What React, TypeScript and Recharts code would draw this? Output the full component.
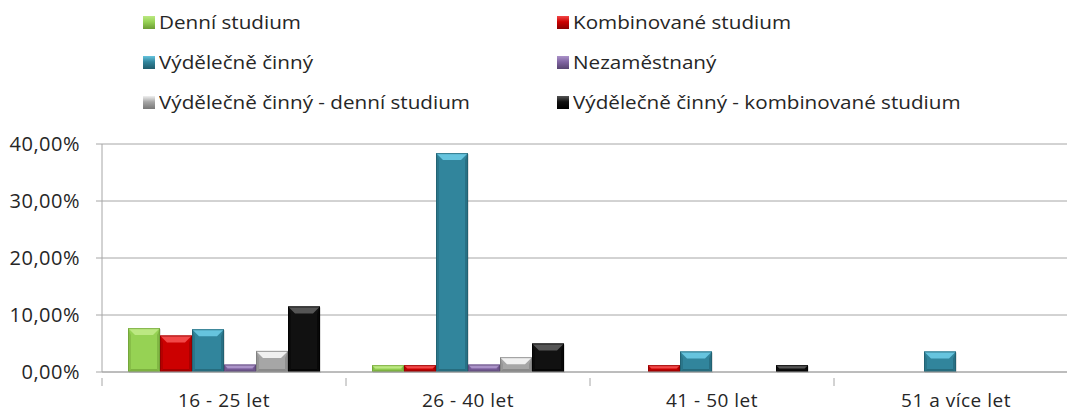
import React from "react";
import { BarChart, Bar, XAxis, YAxis, CartesianGrid } from "recharts";

const categories = ["16 - 25 let", "26 - 40 let", "41 - 50 let", "51 a více let"];
const denniStudium = [0.077, 0.012, 0, 0];
const kombinovaneStudium = [0.064, 0.012, 0.012, 0];
const vydelecneCinny = [0.075, 0.384, 0.036, 0.036];
const nezamestnany = [0.013, 0.013, 0, 0];
const vydelecneDenni = [0.037, 0.026, 0, 0];
const vydelecneKombinovane = [0.115, 0.05, 0.012, 0];
const yTicks = [0, 0.1, 0.2, 0.3, 0.4];

const series = [
  { key: "denni", name: "Denní studium", values: denniStudium, base: "#96d254", light: "#bce882", dark: "#6c9c34" },
  { key: "komb", name: "Kombinované studium", values: kombinovaneStudium, base: "#cc0000", light: "#f24848", dark: "#8a0000" },
  { key: "vyd", name: "Výdělečně činný", values: vydelecneCinny, base: "#31859c", light: "#66c4de", dark: "#205b6b" },
  { key: "nez", name: "Nezaměstnaný", values: nezamestnany, base: "#8064a2", light: "#ab93c9", dark: "#574470" },
  { key: "vydDen", name: "Výdělečně činný - denní studium", values: vydelecneDenni, base: "#a6a6a6", light: "#f0f0f0", dark: "#777777" },
  { key: "vydKomb", name: "Výdělečně činný - kombinované studium", values: vydelecneKombinovane, base: "#111111", light: "#555555", dark: "#000000" },
];

const data = categories.map((c, i) => {
  const row: Record<string, string | number> = { cat: c };
  series.forEach((s) => (row[s.key] = s.values[i]));
  return row;
});

const W = 1080;
const H = 412;
const PLOT_LEFT = 102;
const PLOT_RIGHT = 2;
const HALF_BAND = (W - PLOT_LEFT - PLOT_RIGHT) / categories.length / 2;
const AXIS = "#a6a6a6";
const FONT = "'Open Sans', sans-serif";

const BevelBar = (props: any) => {
  const { x, y, width, height, base, light, dark } = props;
  if (!height || height <= 0) return null;
  const b = Math.min(7, height / 2, width / 2);
  const s = Math.min(3, height / 3);
  return (
    <g>
      <rect x={x + 1} y={y + 1} width={width} height={height} fill="rgba(0,0,0,0.12)" />
      <rect x={x} y={y} width={width} height={height} fill={base} />
      <polygon points={`${x},${y} ${x + width},${y} ${x + width - b},${y + b} ${x + b},${y + b}`} fill={light} />
      <polygon points={`${x},${y} ${x + s},${y + b} ${x + s},${y + height - s} ${x},${y + height}`} fill={dark} opacity={0.35} />
      <polygon points={`${x + width},${y} ${x + width - s},${y + b} ${x + width - s},${y + height - s} ${x + width},${y + height}`} fill={dark} opacity={0.5} />
      <polygon points={`${x},${y + height} ${x + s},${y + height - s} ${x + width - s},${y + height - s} ${x + width},${y + height}`} fill={dark} opacity={0.6} />
      <rect x={x + 0.5} y={y + 0.5} width={width - 1} height={height - 1} fill="none" stroke={dark} strokeWidth={1} opacity={0.7} />
    </g>
  );
};

const CatTick = (props: any) => {
  const { x, y, payload, index } = props;
  return (
    <g>
      <line x1={x - HALF_BAND} y1={y - 2} x2={x - HALF_BAND} y2={y + 6} stroke={AXIS} />
      {index === categories.length - 1 && (
        <line x1={x + HALF_BAND} y1={y - 2} x2={x + HALF_BAND} y2={y + 6} stroke={AXIS} />
      )}
      <text x={x} y={y + 27} textAnchor="middle" fill="#262626" fontSize={19} letterSpacing={0.5} fontFamily={FONT}>
        {payload.value}
      </text>
    </g>
  );
};

const fmt = (v: number) => (v * 100).toFixed(2).replace(".", ",") + "%";

const Legend = () => (
  <div style={{ position: "absolute", left: 0, top: 0, width: 1067, height: 130, pointerEvents: "none" }}>
    {series.map((s, i) => {
      const col = i % 2;
      const row = Math.floor(i / 2);
      const left = col === 0 ? 143 : 557;
      const top = 16 + row * 40;
      return (
        <div key={s.key} style={{ position: "absolute", left, top }}>
          <div
            style={{
              position: "absolute",
              left: 0,
              top: 0,
              width: 12,
              height: 13,
              background: `linear-gradient(180deg, ${s.light} 0%, ${s.base} 45%, ${s.dark} 100%)`,
            }}
          />
          <div
            style={{
              position: "absolute",
              left: 16,
              top: -6,
              whiteSpace: "nowrap",
              fontFamily: FONT,
              fontSize: 17.5,
              color: "#262626",
              transform: "scaleX(1.18)",
              transformOrigin: "left center",
            }}
          >
            {s.name}
          </div>
        </div>
      );
    })}
  </div>
);

const App = () => {
  return (
    <div style={{ position: "absolute", left: 0, top: 0, width: 1067, height: H, overflow: "hidden", background: "#fff" }}>
      <BarChart
        width={W}
        height={H}
        data={data}
        margin={{ top: 144, right: PLOT_RIGHT, bottom: 0, left: 0 }}
        barGap={0}
        barSize={32}
      >
        <CartesianGrid vertical={false} stroke={AXIS} />
        <XAxis
          dataKey="cat"
          height={40}
          axisLine={{ stroke: AXIS }}
          tickLine={false}
          tick={<CatTick />}
          interval={0}
        />
        <YAxis
          width={PLOT_LEFT}
          domain={[0, 0.4]}
          ticks={yTicks}
          tickFormatter={fmt}
          axisLine={{ stroke: AXIS }}
          tickLine={{ stroke: AXIS }}
          tickSize={6}
          tickMargin={16}
          tick={{ fontSize: 20, fill: "#262626", fontFamily: FONT, letterSpacing: 0.5 }}
        />
        {series.map((s) => (
          <Bar
            key={s.key}
            dataKey={s.key}
            name={s.name}
            fill={s.base}
            isAnimationActive={false}
            shape={(p: any) => <BevelBar {...p} base={s.base} light={s.light} dark={s.dark} />}
          />
        ))}
      </BarChart>
      <Legend />
    </div>
  );
};

export default App;
